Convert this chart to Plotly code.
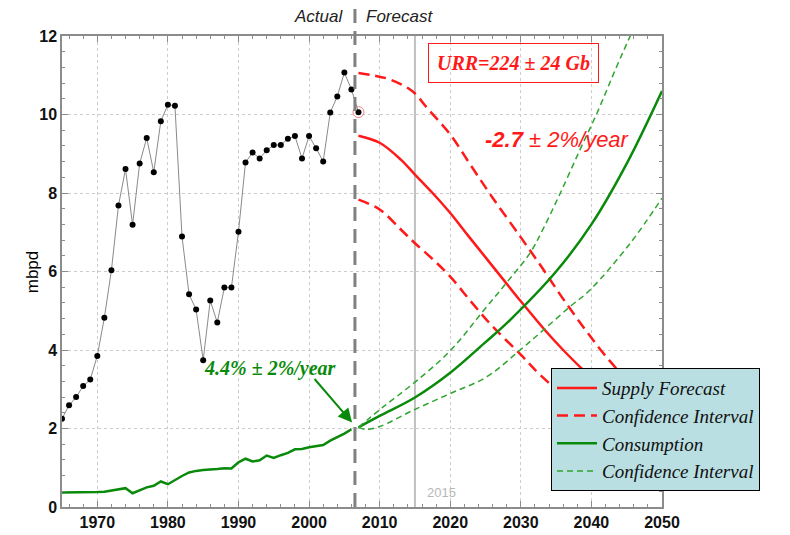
import plotly.graph_objects as go

# ---- data ----
hist_years = list(range(1965, 2008))
production = [2.25, 2.59, 2.80, 3.08, 3.25, 3.85, 4.82, 6.03, 7.68, 8.61,
              7.19, 8.75, 9.40, 8.53, 9.83, 10.25, 10.22, 6.89, 5.42, 5.03,
              3.74, 5.26, 4.70, 5.59, 5.59, 7.01, 8.78, 9.03, 8.88, 9.09,
              9.22, 9.22, 9.38, 9.45, 8.88, 9.45, 9.14, 8.80, 10.05, 10.46,
              11.07, 10.64, 10.06]
cons_years = list(range(1965, 2007))
consumption = [0.37, 0.37, 0.37, 0.38, 0.38, 0.38, 0.39, 0.42, 0.45, 0.48,
               0.35, 0.42, 0.50, 0.54, 0.65, 0.58, 0.69, 0.79, 0.88, 0.92,
               0.94, 0.95, 0.97, 0.99, 0.98, 1.14, 1.23, 1.16, 1.19, 1.31,
               1.25, 1.32, 1.38, 1.47, 1.48, 1.52, 1.55, 1.58, 1.69, 1.77,
               1.87, 1.98]

sup_years = [2007, 2010, 2013, 2015, 2017.5, 2020, 2022.5, 2025, 2027.5, 2030,
             2033.4, 2036, 2038.6, 2042, 2046, 2050]
supply_fc = [9.46, 9.28, 8.85, 8.47, 8.0, 7.49, 6.92, 6.36, 5.8, 5.24,
             4.51, 4.0, 3.53, 2.95, 2.3, 1.7]

sup_hi_years = [2007, 2009, 2011.5, 2014.6, 2016.9, 2020, 2023, 2026, 2030,
                2033, 2036, 2039, 2042, 2046, 2050]
supply_hi = [11.06, 11.0, 10.89, 10.6, 10.13, 9.49, 8.68, 7.88, 6.87,
             6.1, 5.3, 4.55, 3.85, 3.05, 2.35]

sup_lo_years = [2007, 2010, 2013, 2015, 2017.6, 2020, 2023, 2026, 2030, 2033,
                2038, 2042, 2046, 2050]
supply_lo = [7.83, 7.58, 7.07, 6.72, 6.3, 5.87, 5.22, 4.6, 3.88, 3.32,
             2.55, 2.0, 1.5, 1.05]

con_years = [2007, 2010, 2015, 2020, 2025, 2028.5, 2035, 2040, 2045, 2050]
consumption_fc = [2.03, 2.32, 2.79, 3.42, 4.2, 4.77, 6.0, 7.2, 8.75, 10.6]

con_hi_years = [2007, 2010.5, 2014.8, 2020, 2024.7, 2028, 2031.3, 2033.2, 2035.6,
                2038.4, 2040.8, 2043.6, 2045.5, 2047]
consumption_hi = [2.03, 2.55, 3.15, 3.98, 5.0, 5.72, 6.47, 7.1, 8.0,
                  9.11, 10.04, 11.23, 12.0, 12.6]

con_lo_years = [2007, 2008, 2010, 2014.8, 2020, 2025.2, 2029.9, 2033.2, 2037,
                2039.8, 2045.5, 2050]
consumption_lo = [2.03, 1.98, 2.05, 2.47, 2.89, 3.32, 4.0, 4.51, 5.11,
                  5.53, 6.72, 7.87]

RED = "#ff1a1a"
GREEN = "#0a8a0a"
GREEN_D = "#2ea52e"

fig = go.Figure()

# historical production
fig.add_trace(go.Scatter(x=hist_years, y=production, mode="lines+markers",
                         line=dict(color="#8a8a8a", width=1),
                         marker=dict(color="black", size=6),
                         showlegend=False))
fig.add_trace(go.Scatter(x=[hist_years[-1]], y=[production[-1]], mode="markers",
                         marker=dict(size=11, color="rgba(0,0,0,0)",
                                     line=dict(color="#f08080", width=1)),
                         showlegend=False))
# historical consumption
fig.add_trace(go.Scatter(x=cons_years, y=consumption, mode="lines",
                         line=dict(color=GREEN, width=2.5), showlegend=False))

# supply forecast
fig.add_trace(go.Scatter(x=sup_years, y=supply_fc, mode="lines", line_shape="spline",
                         line=dict(color=RED, width=2.5), name="Supply Forecast"))
fig.add_trace(go.Scatter(x=sup_hi_years, y=supply_hi, mode="lines", line_shape="spline",
                         line=dict(color=RED, width=2.5, dash="11px,6px"),
                         name="Confidence Interval", legendgroup="rci"))
fig.add_trace(go.Scatter(x=sup_lo_years, y=supply_lo, mode="lines", line_shape="spline",
                         line=dict(color=RED, width=2.5, dash="11px,6px"),
                         name="Confidence Interval", legendgroup="rci", showlegend=False))
# consumption forecast
fig.add_trace(go.Scatter(x=con_years, y=consumption_fc, mode="lines", line_shape="spline",
                         line=dict(color=GREEN, width=2.5), name="Consumption"))
fig.add_trace(go.Scatter(x=con_hi_years, y=consumption_hi, mode="lines", line_shape="spline",
                         line=dict(color=GREEN_D, width=1.5, dash="6px,4px"),
                         name="Confidence Interval", legendgroup="gci"))
fig.add_trace(go.Scatter(x=con_lo_years, y=consumption_lo, mode="lines", line_shape="spline",
                         line=dict(color=GREEN_D, width=1.5, dash="6px,4px"),
                         name="Confidence Interval", legendgroup="gci", showlegend=False))

shapes = [
    dict(type="line", xref="x", yref="y", x0=2015, x1=2015, y0=0, y1=12,
         line=dict(color="#c0c0c0", width=2), layer="below"),
    dict(type="line", xref="x", yref="paper", x0=2006.5, x1=2006.5, y0=0, y1=1.066,
         line=dict(color="#808080", width=3, dash="14px,8px"), layer="above"),
]

annotations = [
    dict(text="<i>Actual</i>", xref="paper", yref="paper", x=0.4717, y=1.042,
         xanchor="right", yanchor="middle", showarrow=False,
         font=dict(family="Liberation Sans", size=17, color="#222")),
    dict(text="<i>Forecast</i>", xref="paper", yref="paper", x=0.503, y=1.042,
         xanchor="left", yanchor="middle", showarrow=False,
         font=dict(family="Liberation Sans", size=17, color="#222")),
    dict(text="<b><i>URR=224 ± 24 Gb</i></b>", x=2028.9, y=11.3, xref="x", yref="y",
         showarrow=False, bordercolor=RED, borderwidth=1, borderpad=8,
         font=dict(family="Liberation Serif", size=20, color=RED)),
    dict(text="<i><b>-2.7</b> ± 2%/year</i>", x=2035.2, y=9.36, xref="x", yref="y",
         showarrow=False, font=dict(family="Liberation Sans", size=22, color=RED)),
    dict(text="<b><i>4.4% ± 2%/year</i></b>", x=1994.4, y=3.52, xref="x", yref="y",
         showarrow=False, font=dict(family="Liberation Serif", size=20, color=GREEN)),
    dict(text="", x=2006.1, y=2.15, ax=2000.6, ay=3.3, xref="x", yref="y",
         axref="x", ayref="y", showarrow=True, arrowhead=2, arrowsize=1.4,
         arrowwidth=2, arrowcolor=GREEN, standoff=0),
    dict(text="2015", x=2018.7, y=0.38, xref="x", yref="y", showarrow=False,
         font=dict(family="Liberation Sans", size=13, color="#b8b8b8")),
    dict(text="mbpd", xref="paper", yref="paper", x=-0.067, y=0.499, textangle=-90,
         showarrow=False, font=dict(family="Liberation Sans", size=17, color="black")),
]

axis_common = dict(
    showline=True, linecolor="#8c8c8c", linewidth=1.5, mirror="ticks",
    ticks="inside", ticklen=6, tickcolor="#8c8c8c", tickwidth=1,
    showgrid=True, gridcolor="#cccccc", griddash="dot", gridwidth=1,
    zeroline=False, automargin=False,
    tickfont=dict(family="Liberation Sans", size=16, color="#111", weight="bold"),
)

fig.update_layout(
    width=782, height=527,
    margin=dict(l=54, r=128, t=28, b=28, autoexpand=False),
    paper_bgcolor="white", plot_bgcolor="white",
    font=dict(family="Liberation Sans"),
    xaxis=dict(range=[1965, 2050], tick0=1970, dtick=10,
               minor=dict(dtick=2, ticks="inside", ticklen=3, tickcolor="#8c8c8c",
                          showgrid=False),
               **axis_common),
    yaxis=dict(range=[0, 12], dtick=2,
               minor=dict(dtick=0.4, ticks="inside", ticklen=3, tickcolor="#8c8c8c",
                          showgrid=False),
               **axis_common),
    legend=dict(x=0.815, y=0.295, xanchor="left", yanchor="top",
                bgcolor="#badfe2", bordercolor="black", borderwidth=1,
                font=dict(family="Liberation Serif", size=19, color="#111", style="italic"),
                tracegroupgap=0, itemwidth=40),
    shapes=shapes,
    annotations=annotations,
)

fig.write_html("out.html")
